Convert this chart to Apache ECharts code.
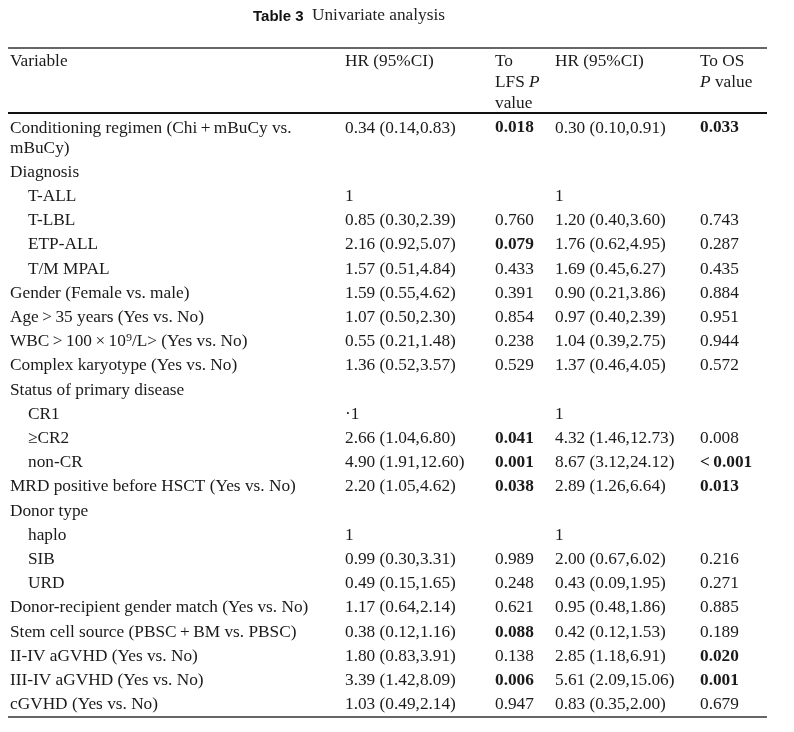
<!DOCTYPE html>
<html>
<head>
<meta charset="utf-8">
<script src="https://cdn.jsdelivr.net/npm/echarts@6/dist/echarts.min.js"></script>
<style>
html,body{margin:0;padding:0;background:#fff;}
#chart{width:794px;height:732px;}
</style>
</head>
<body>
<div id="chart"></div>
<script>
// ---------- DATA ----------
const TITLE_BOLD = 'Table 3';
const TITLE_TEXT = 'Univariate analysis';
const HEADERS = ['Variable', 'HR (95%CI)', 'To\nLFS P\nvalue', 'HR (95%CI)', 'To OS\nP value'];

const VARIABLES = [
  'Conditioning regimen (Chi\u2009+\u2009mBuCy vs.\nmBuCy)',
  'Diagnosis',
  'T-ALL',
  'T-LBL',
  'ETP-ALL',
  'T/M MPAL',
  'Gender (Female vs. male)',
  'Age\u2009>\u200935 years (Yes vs. No)',
  'WBC\u2009>\u2009100\u2009\u00d7\u200910\u2079/L> (Yes vs. No)',
  'Complex karyotype (Yes vs. No)',
  'Status of primary disease',
  'CR1',
  '\u2265CR2',
  'non-CR',
  'MRD positive before HSCT (Yes vs. No)',
  'Donor type',
  'haplo',
  'SIB',
  'URD',
  'Donor-recipient gender match (Yes vs. No)',
  'Stem cell source (PBSC\u2009+\u2009BM vs. PBSC)',
  'II-IV aGVHD (Yes vs. No)',
  'III-IV aGVHD (Yes vs. No)',
  'cGVHD (Yes vs. No)'
];
const SUBROW = [0,0,1,1,1,1,0,0,0,0,0,1,1,1,0,0,1,1,1,0,0,0,0,0];

const LFS_HR = ['0.34 (0.14,0.83)','','1','0.85 (0.30,2.39)','2.16 (0.92,5.07)','1.57 (0.51,4.84)',
  '1.59 (0.55,4.62)','1.07 (0.50,2.30)','0.55 (0.21,1.48)','1.36 (0.52,3.57)','','\u00b71',
  '2.66 (1.04,6.80)','4.90 (1.91,12.60)','2.20 (1.05,4.62)','','1','0.99 (0.30,3.31)',
  '0.49 (0.15,1.65)','1.17 (0.64,2.14)','0.38 (0.12,1.16)','1.80 (0.83,3.91)','3.39 (1.42,8.09)','1.03 (0.49,2.14)'];
const LFS_P = ['0.018','','','0.760','0.079','0.433','0.391','0.854','0.238','0.529','','',
  '0.041','0.001','0.038','','','0.989','0.248','0.621','0.088','0.138','0.006','0.947'];
const LFS_P_BOLD = [1,0,0,0,1,0,0,0,0,0,0,0,1,1,1,0,0,0,0,0,1,0,1,0];

const OS_HR = ['0.30 (0.10,0.91)','','1','1.20 (0.40,3.60)','1.76 (0.62,4.95)','1.69 (0.45,6.27)',
  '0.90 (0.21,3.86)','0.97 (0.40,2.39)','1.04 (0.39,2.75)','1.37 (0.46,4.05)','','1',
  '4.32 (1.46,12.73)','8.67 (3.12,24.12)','2.89 (1.26,6.64)','','1','2.00 (0.67,6.02)',
  '0.43 (0.09,1.95)','0.95 (0.48,1.86)','0.42 (0.12,1.53)','2.85 (1.18,6.91)','5.61 (2.09,15.06)','0.83 (0.35,2.00)'];
const OS_P = ['0.033','','','0.743','0.287','0.435','0.884','0.951','0.944','0.572','','',
  '0.008','<\u20090.001','0.013','','','0.216','0.271','0.885','0.189','0.020','0.001','0.679'];
const OS_P_BOLD = [1,0,0,0,0,0,0,0,0,0,0,0,0,1,1,0,0,0,0,0,0,1,1,0];

// ---------- LAYOUT ----------
const COL_X = [10, 345, 495, 555, 700];
const SUB_INDENT = 18;
const WRAP_STEP = 0.83;   // extra row units for a wrapped line
const FONT = '"Liberation Serif", "Times New Roman", serif';
const FS = 17.3;
const INK = '#1a1a1a';

// row positions in row units (wrapped labels push following rows down)
const ROW_POS = [];
let acc = 0;
VARIABLES.forEach((v, i) => {
  ROW_POS.push(acc);
  acc += 1 + (v.split('\n').length - 1) * WRAP_STEP;
});

const chart = echarts.init(document.getElementById('chart'), null, {renderer: 'canvas'});

function txt(x, y, s, bold, style) {
  return {
    type: 'text',
    x: x, y: y,
    style: Object.assign({
      text: s, fill: INK, font: (bold ? 'bold ' : '') + FS + 'px ' + FONT,
      textVerticalAlign: 'top', verticalAlign: 'top', lineHeight: 20
    }, style || {})
  };
}

const option = {
  animation: false,
  backgroundColor: '#fff',
  grid: {left: 0, right: 0, top: 128, bottom: 23.2},
  xAxis: {type: 'value', min: 0, max: 794, show: false},
  yAxis: {type: 'value', min: 0, max: 24, inverse: true, show: false},
  graphic: [
    {type: 'text', left: 253, top: 9, style: {text: TITLE_BOLD, fill: '#111',
      font: 'bold 15px "Liberation Sans Narrow", "Liberation Sans", sans-serif'}},
    {type: 'text', left: 312, top: 7, style: {text: TITLE_TEXT, fill: '#222',
      font: '17.3px ' + FONT}},
    {type: 'line', shape: {x1: 8, y1: 48, x2: 767, y2: 48}, style: {stroke: '#333', lineWidth: 1.3}},
    {type: 'line', shape: {x1: 8, y1: 113, x2: 767, y2: 113}, style: {stroke: '#111', lineWidth: 2}},
    {type: 'line', shape: {x1: 8, y1: 717, x2: 767, y2: 717}, style: {stroke: '#333', lineWidth: 1.3}},
    {type: 'text', left: COL_X[0], top: 51, style: {text: HEADERS[0], fill: INK, font: FS + 'px ' + FONT, lineHeight: 21}},
    {type: 'text', left: COL_X[1], top: 51, style: {text: HEADERS[1], fill: INK, font: FS + 'px ' + FONT, lineHeight: 21}},
    {type: 'text', left: COL_X[2], top: 51, style: {
      text: '{n|To}\n{n|LFS }{i|P}\n{n|value}', lineHeight: 21,
      rich: {n: {fill: INK, font: FS + 'px ' + FONT, lineHeight: 21},
             i: {fill: INK, font: 'italic ' + FS + 'px ' + FONT, lineHeight: 21}}}},
    {type: 'text', left: COL_X[3], top: 51, style: {text: HEADERS[3], fill: INK, font: FS + 'px ' + FONT, lineHeight: 21}},
    {type: 'text', left: COL_X[4], top: 51, style: {
      text: '{n|To OS}\n{i|P}{n| value}', lineHeight: 21,
      rich: {n: {fill: INK, font: FS + 'px ' + FONT, lineHeight: 21},
             i: {fill: INK, font: 'italic ' + FS + 'px ' + FONT, lineHeight: 21}}}}
  ],
  series: [{
    type: 'custom',
    coordinateSystem: 'cartesian2d',
    encode: {x: 0, y: 1},
    data: ROW_POS.map((p, i) => [COL_X[0], p]),
    renderItem: function (params, api) {
      const i = params.dataIndex;
      const y = api.coord([0, api.value(1)])[1] - 10;
      const xs = COL_X.map(c => api.coord([c, api.value(1)])[0]);
      const children = [
        txt(xs[0] + (SUBROW[i] ? SUB_INDENT : 0), y, VARIABLES[i], false),
        txt(xs[1], y, LFS_HR[i], false),
        txt(xs[2], y, LFS_P[i], !!LFS_P_BOLD[i]),
        txt(xs[3], y, OS_HR[i], false),
        txt(xs[4], y, OS_P[i], !!OS_P_BOLD[i])
      ];
      return {type: 'group', children: children};
    }
  }]
};
chart.setOption(option);
</script>
</body>
</html>
